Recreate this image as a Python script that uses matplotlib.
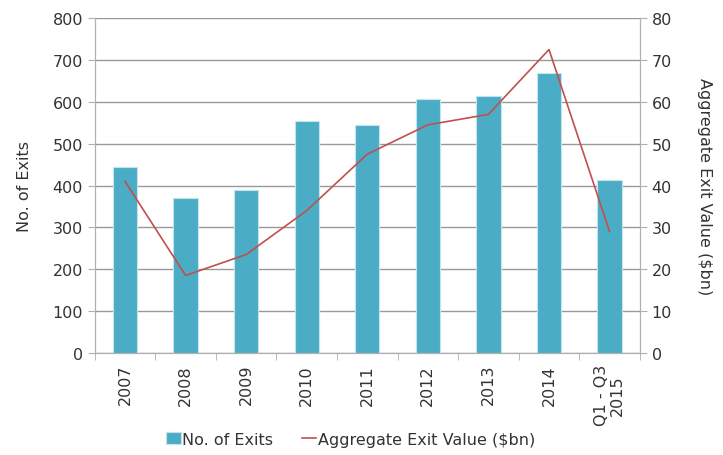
import matplotlib
matplotlib.use("Agg")
import matplotlib.pyplot as plt
import numpy as np

categories = ["2007", "2008", "2009", "2010", "2011", "2012", "2013", "2014", "Q1 - Q3\n2015"]
exits = [445, 370, 390, 553, 545, 607, 615, 668, 413]
exit_value = [41, 18.5, 23.5, 34, 47.5, 54.5, 57, 72.5, 29]

plt.rcParams['font.family'] = ['DejaVu Sans']
txt = '#333333'
grid_c = '#999999'

fig = plt.figure(figsize=(7.23, 4.56), dpi=100)
ax = fig.add_axes([0.131, 0.224, 0.754, 0.734])
ax2 = ax.twinx()

x = np.arange(len(categories))
ax.bar(x, exits, width=0.4, color='#4BACC6', edgecolor='#c5e3ec', linewidth=0.8, zorder=3, label='No. of Exits')
ax2.plot(x, exit_value, color='#C0504D', linewidth=1.2, label='Aggregate Exit Value ($bn)')

ax.set_xlim(-0.5, len(categories) - 0.5)
ax.set_ylim(0, 800)
ax.set_yticks(range(0, 801, 100))
ax2.set_ylim(0, 80)
ax2.set_yticks(range(0, 81, 10))

ax.yaxis.grid(True, color=grid_c, linewidth=1.0, zorder=0)
ax.set_axisbelow(True)

fs = 11.5
ax.set_xticks(x)
ax.set_xticklabels(categories, rotation=90, fontsize=fs, color=txt, linespacing=1.1)
ax.set_xticks(np.arange(-0.5, len(categories), 1), minor=True)
ax.tick_params(axis='x', which='major', length=0, pad=8)
ax.tick_params(axis='x', which='minor', length=5, color='#b0b0b0')
ax.tick_params(axis='y', labelsize=fs, colors=txt, length=5, color='#b0b0b0')
ax2.tick_params(axis='y', labelsize=fs, colors=txt, length=5, color='#b0b0b0')
for a in (ax, ax2):
    for s in a.spines.values():
        s.set_color('#b0b0b0')
    a.spines['top'].set_visible(False)
for lab in ax.get_yticklabels() + ax2.get_yticklabels():
    lab.set_color(txt)

ax.set_ylabel('No. of Exits', fontsize=fs, color=txt, labelpad=15)
ax2.set_ylabel('Aggregate Exit Value ($bn)', fontsize=fs, color=txt, rotation=270, labelpad=29)

h1, l1 = ax.get_legend_handles_labels()
h2, l2 = ax2.get_legend_handles_labels()
leg = fig.legend(h1 + h2, l1 + l2, loc='center', bbox_to_anchor=(0.485, 0.035), ncol=2,
                 frameon=False, fontsize=fs, handlelength=0.9, handletextpad=0.1, columnspacing=1.8)
for t in leg.get_texts():
    t.set_color(txt)

fig.savefig('out.png', dpi=100)
